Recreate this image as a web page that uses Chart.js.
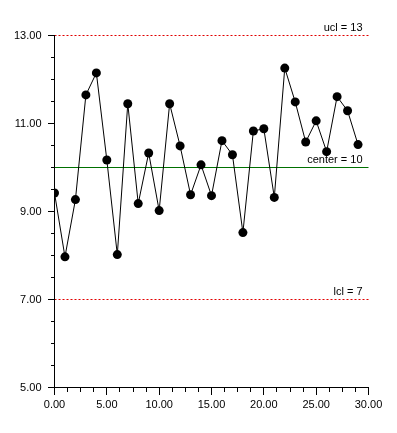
<!DOCTYPE html>
<html>
<head>
<meta charset="utf-8">
<script src="https://cdn.jsdelivr.net/npm/chart.js@4"></script>
<style>
    html, body { margin: 0; padding: 0; background: #fff; }
    #wrap { width: 397px; height: 433px; }
</style>
</head>
<body>
<div id="wrap"><canvas id="controlChart" width="397" height="433"></canvas></div>
<script>
// sample number and measured value
const samples = [0, 1, 2, 3, 4, 5, 6, 7, 8, 9, 10, 11, 12, 13, 14, 15, 16, 17, 18, 19, 20, 21, 22, 23, 24, 25, 26, 27, 28, 29];
const values = [9.42, 7.97, 9.27, 11.65, 12.15, 10.17, 8.02, 11.45, 9.18, 10.33, 9.02, 11.45, 10.49, 9.38, 10.06,
                9.36, 10.61, 10.29, 8.52, 10.83, 10.88, 9.32, 12.26, 11.49, 10.58, 11.06, 10.36, 11.61, 11.29, 10.52];

// control limits
const limitNames = ["ucl = 13", "center = 10", "lcl = 7"];
const limitValues = [13, 10, 7];

// axis ticks
const xMajorTicks = [0, 5, 10, 15, 20, 25, 30];
const yMajorTicks = [5, 7, 9, 11, 13];

const FONT = "Liberation Sans, Arial, sans-serif";

function limitLine(v, color, dash) {
    return {
        data: [{ x: 0, y: v }, { x: 30, y: v }],
        borderColor: color,
        borderWidth: 1,
        borderDash: dash,
        pointRadius: 0,
        clip: false,
        fill: false
    };
}

// draws major/minor tick marks and the limit labels
const tickMarks = {
    id: "tickMarks",
    afterDraw(chart) {
        const ctx = chart.ctx;
        const xs = chart.scales.x, ys = chart.scales.y;
        const area = chart.chartArea;
        const bottom = Math.round(area.bottom);
        const left = Math.round(area.left);
        ctx.save();
        ctx.strokeStyle = "#000";
        ctx.lineWidth = 1;
        ctx.beginPath();
        xs.ticks.forEach(t => {
            const px = Math.floor(xs.getPixelForValue(t.value)) + 0.5;
            const len = xMajorTicks.includes(t.value) ? 7 : 4;
            ctx.moveTo(px, bottom);
            ctx.lineTo(px, bottom + len);
        });
        ys.ticks.forEach(t => {
            const py = Math.floor(ys.getPixelForValue(t.value)) + 0.5;
            const len = yMajorTicks.includes(t.value) ? 7 : 4;
            ctx.moveTo(left, py);
            ctx.lineTo(left - len, py);
        });
        ctx.stroke();

        ctx.fillStyle = "#000";
        ctx.font = "11px " + FONT;
        ctx.textAlign = "right";
        ctx.textBaseline = "alphabetic";
        limitNames.forEach((name, i) => {
            const py = ys.getPixelForValue(limitValues[i]);
            ctx.fillText(name, area.right - 6, Math.round(py) - 5);
        });
        ctx.restore();
    }
};

const ctx = document.getElementById("controlChart").getContext("2d");

new Chart(ctx, {
    type: "line",
    data: {
        datasets: [
            limitLine(limitValues[0], "#e00000", [2, 2]),
            limitLine(limitValues[2], "#e00000", [2, 2]),
            {
                data: samples.map((s, i) => ({ x: s, y: values[i] })),
                borderColor: "#000",
                borderWidth: 1,
                pointRadius: 4.5,
                pointBackgroundColor: "#000",
                pointBorderColor: "#000",
                pointBorderWidth: 0,
                tension: 0,
                fill: false
            },
            limitLine(limitValues[1], "#007000", [])
        ]
    },
    options: {
        responsive: false,
        animation: false,
        layout: { padding: { left: 0, right: 28.5, top: 35.5, bottom: 0 } },
        plugins: {
            legend: { display: false },
            tooltip: { enabled: false }
        },
        scales: {
            x: {
                type: "linear",
                min: 0,
                max: 30,
                grid: { display: false, drawTicks: false },
                border: { display: true, color: "#000", width: 1 },
                ticks: {
                    stepSize: 1.25,
                    autoSkip: false,
                    maxRotation: 0,
                    padding: 11,
                    color: "#000",
                    font: { family: FONT, size: 11 },
                    callback: v => xMajorTicks.includes(v) ? v.toFixed(2) : ""
                },
                afterFit: s => { s.height = 45.5; }
            },
            y: {
                min: 5,
                max: 13,
                grid: { display: false, drawTicks: false },
                border: { display: true, color: "#000", width: 1 },
                ticks: {
                    stepSize: 0.5,
                    autoSkip: false,
                    padding: 13,
                    color: "#000",
                    font: { family: FONT, size: 11 },
                    callback: v => yMajorTicks.includes(v) ? v.toFixed(2) : ""
                },
                afterFit: s => { s.width = 54.5; }
            }
        }
    },
    plugins: [tickMarks]
});
</script>
</body>
</html>
